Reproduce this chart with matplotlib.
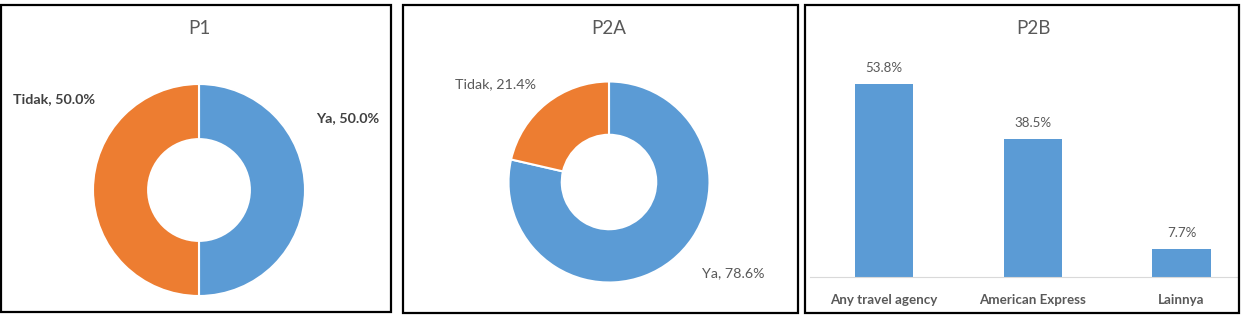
import matplotlib.pyplot as plt
from matplotlib.patches import Rectangle

plt.rcParams['font.family'] = ['Lato', 'DejaVu Sans']

W, H = 1245, 315

# data
p1_labels = ["Ya", "Tidak"]
p1_values = [50.0, 50.0]
p2a_labels = ["Ya", "Tidak"]
p2a_values = [78.6, 21.4]
p2b_labels = ["Any travel agency", "American Express", "Lainnya"]
p2b_values = [53.8, 38.5, 7.7]

blue = "#5B9BD5"
orange = "#ED7D31"
grey = "#595959"


def px_axes(fig, x0, y0, x1, y1):
    # pixel box (y from top) -> axes
    return fig.add_axes([x0 / W, 1 - y1 / H, (x1 - x0) / W, (y1 - y0) / H])


def frame(fig, x0, y0, x1, y1):
    fig.patches.append(Rectangle((x0 / W, 1 - y1 / H), (x1 - x0) / W, (y1 - y0) / H,
                                 transform=fig.transFigure, fill=False,
                                 edgecolor="black", linewidth=1.6))


def donut(fig, cx, cy, r, hole, values, labels, label_pos, weight, title):
    ax = px_axes(fig, cx - r, cy - r, cx + r, cy + r)
    ax.pie(values, colors=[blue, orange], startangle=90, counterclock=False,
           radius=1, wedgeprops=dict(width=1 - hole, edgecolor="white", linewidth=1.5))
    ax.set_xlim(-1, 1)
    ax.set_ylim(-1, 1)
    ax.set_aspect("auto")
    ax.axis("off")
    for lab, v, (dx, dy) in zip(labels, values, label_pos):
        ax.text(dx, dy, "{}, {:.1f}%".format(lab, v), ha="center", va="center",
                fontsize=10.3, color="#404040" if weight == "bold" else grey,
                fontweight=weight, clip_on=False)
    fig.text(cx / W, 1 - 28 / H, title, ha="center", va="center", fontsize=13.5, color=grey)


fig = plt.figure(figsize=(W / 100, H / 100), dpi=100)

frame(fig, 1, 5, 391, 312)
frame(fig, 403, 5, 798, 313)
frame(fig, 805, 5, 1239, 313)

donut(fig, 199, 190, 106, 0.48, p1_values, p1_labels,
      [(1.40, 0.68), (-1.37, 0.86)], "bold", "P1")
donut(fig, 609, 182, 100.5, 0.47, p2a_values, p2a_labels,
      [(1.24, -0.91), (-1.13, 0.97)], "normal", "P2A")

# bar chart P2B
ax = px_axes(fig, 810, 60, 1237, 277)
x = range(len(p2b_values))
bars = ax.bar(x, p2b_values, width=0.39, color=blue)
ax.set_xlim(-0.497, 2.373)
ax.set_ylim(0, 60.5)
for b, v in zip(bars, p2b_values):
    ax.annotate("{:.1f}%".format(v), (b.get_x() + b.get_width() / 2, v),
                xytext=(0, 16), textcoords="offset pixels", ha="center", va="center",
                fontsize=9.6, color=grey)
ax.set_xticks(list(x))
ax.set_xticklabels(p2b_labels, fontsize=9.6, fontweight="bold", color=grey)
ax.tick_params(axis="x", length=0, pad=12)
ax.set_yticks([])
for s in ["top", "left", "right"]:
    ax.spines[s].set_visible(False)
ax.spines["bottom"].set_color("#D9D9D9")
fig.text(1033 / W, 1 - 28 / H, "P2B", ha="center", va="center", fontsize=13.5, color=grey)

fig.savefig("out.png", dpi=100)
